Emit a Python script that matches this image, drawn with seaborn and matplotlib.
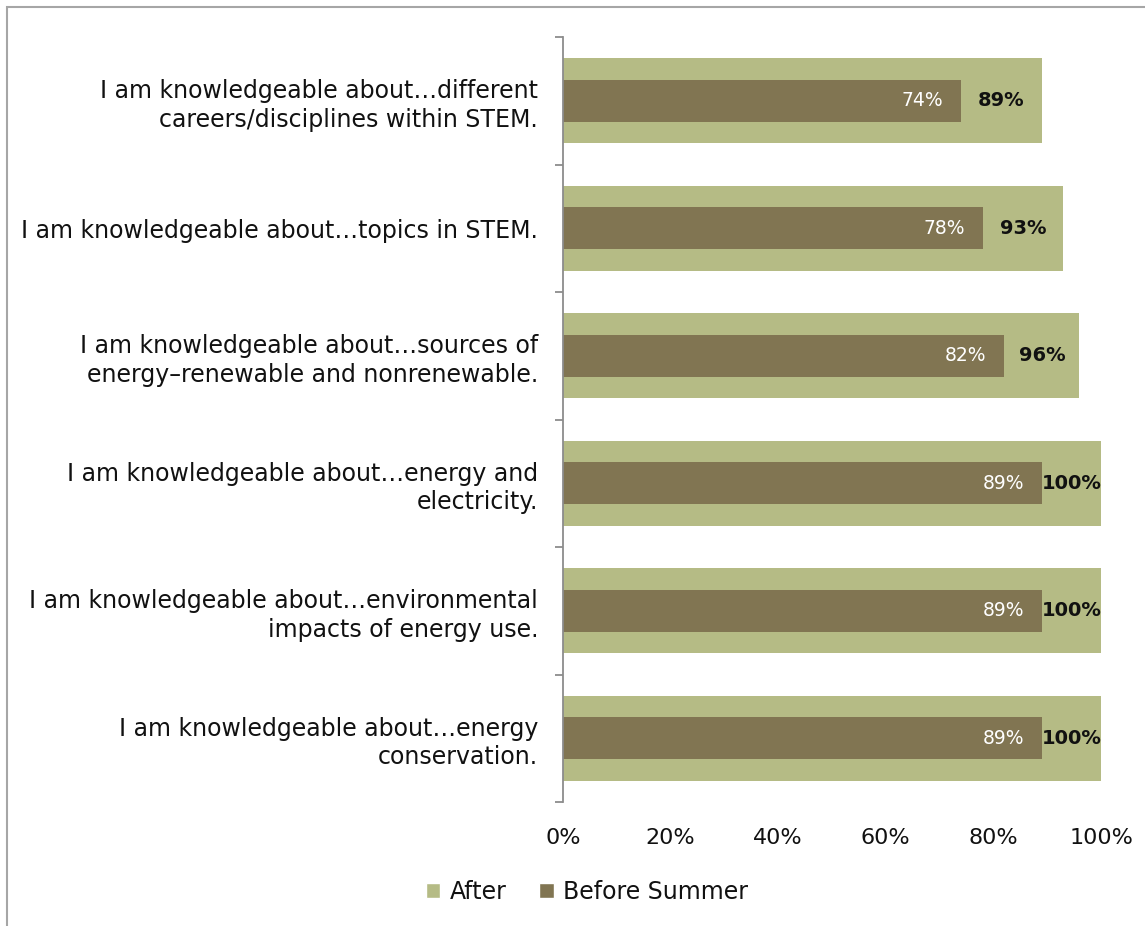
import matplotlib
matplotlib.use("Agg")
import matplotlib.pyplot as plt
from matplotlib.patches import Rectangle, Patch
from matplotlib.ticker import FixedLocator
import seaborn as sns
import pandas as pd

# Survey statements (top to bottom)
categories = [
    "I am knowledgeable about…different\ncareers/disciplines within STEM.",
    "I am knowledgeable about…topics in STEM.",
    "I am knowledgeable about…sources of\nenergy–renewable and nonrenewable.",
    "I am knowledgeable about…energy and\nelectricity.",
    "I am knowledgeable about…environmental\nimpacts of energy use.",
    "I am knowledgeable about…energy\nconservation.",
]
after_pct = [89, 93, 96, 100, 100, 100]
before_pct = [74, 78, 82, 89, 89, 89]
x_ticks = [0, 20, 40, 60, 80, 100]
x_tick_labels = ["0%", "20%", "40%", "60%", "80%", "100%"]

AFTER_COLOR = "#B5BB85"
BEFORE_COLOR = "#817552"
TEXT_COLOR = "#111111"

sns.set_theme(style="white")
plt.rcParams["font.family"] = ["DejaVu Sans"]

df = pd.DataFrame({"item": categories, "After": after_pct, "Before Summer": before_pct})

fig = plt.figure(figsize=(11.45, 9.26), dpi=100)
ax = fig.add_axes([563 / 1145, 1 - 802 / 926, (1101 - 563) / 1145, (802 - 37) / 926])

sns.barplot(data=df, x="After", y="item", orient="h", color=AFTER_COLOR,
            width=0.67, saturation=1, linewidth=0, ax=ax)
sns.barplot(data=df, x="Before Summer", y="item", orient="h", color=BEFORE_COLOR,
            width=0.33, saturation=1, linewidth=0, ax=ax)

ax.set_xlim(0, 100)
ax.set_ylim(len(categories) - 0.5, -0.5)
ax.set_xlabel("")
ax.set_ylabel("")

# Value labels
for i, (a, b) in enumerate(zip(after_pct, before_pct)):
    ax.annotate(f"{b}%", xy=(b, i), xytext=(-13, 0), textcoords="offset points",
                ha="right", va="center", color="white", fontsize=13.5)
    ax.text((a + b) / 2, i, f"{a}%", ha="center", va="center",
            color=TEXT_COLOR, fontsize=14, fontweight="bold")

# Axes styling
for side in ["top", "right", "bottom"]:
    ax.spines[side].set_visible(False)
ax.spines["left"].set_color("#8c8c8c")
ax.spines["left"].set_linewidth(1.3)

ax.set_xticks(x_ticks)
ax.set_xticklabels(x_tick_labels)
ax.tick_params(axis="x", length=0, pad=19, labelsize=16, labelcolor=TEXT_COLOR)

ax.set_yticks(range(len(categories)))
ax.set_yticklabels(categories, ha="right", multialignment="right", linespacing=1.25)
ax.tick_params(axis="y", which="major", length=0, pad=18, labelsize=17, labelcolor=TEXT_COLOR)
ax.yaxis.set_minor_locator(FixedLocator([k - 0.5 for k in range(len(categories) + 1)]))
ax.tick_params(axis="y", which="minor", length=6, width=1.3, color="#8c8c8c", left=True)

# Legend
handles = [Patch(facecolor=AFTER_COLOR, label="After"),
           Patch(facecolor=BEFORE_COLOR, label="Before Summer")]
fig.legend(handles=handles, loc="center", bbox_to_anchor=(587 / 1145, 1 - 892 / 926),
           ncol=2, frameon=False, fontsize=17, handlelength=0.6, handleheight=0.6,
           handletextpad=0.4, columnspacing=1.4, labelcolor=TEXT_COLOR)

# Chart frame
fig.add_artist(Rectangle((7 / 1145, -0.1), 1.2, 1 - 7 / 926 + 0.1, transform=fig.transFigure,
                         fill=False, edgecolor="#a6a6a6", linewidth=1.5))

fig.savefig("out.png", dpi=100, facecolor="white")
